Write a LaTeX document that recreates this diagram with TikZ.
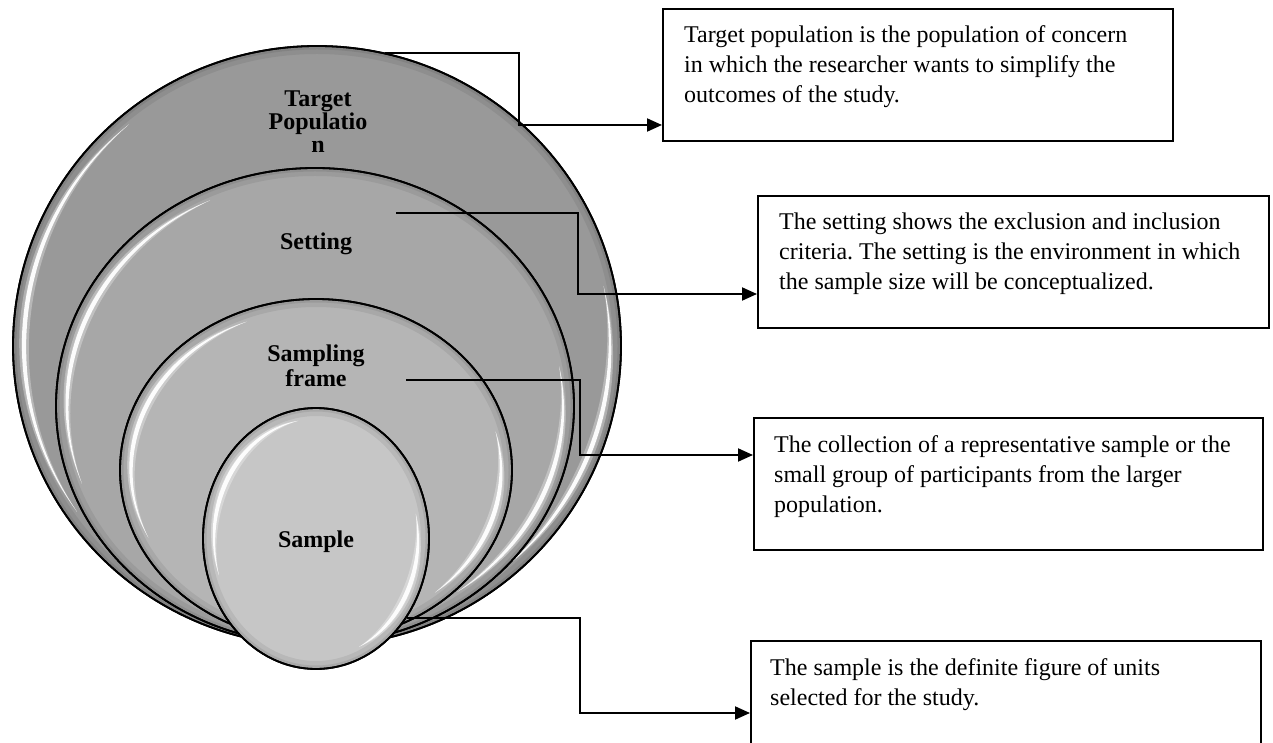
\documentclass[tikz,border=0pt]{standalone}
\usepackage{fontspec}
\setmainfont{Liberation Serif}
\usetikzlibrary{shapes.geometric,arrows.meta,calc}

\definecolor{popfill}{HTML}{999999}
\definecolor{setfill}{HTML}{A7A7A7}
\definecolor{framefill}{HTML}{B5B5B5}
\definecolor{samplefill}{HTML}{C6C6C6}

\tikzset{
  disc/.style={ellipse, draw=black, line width=1.8pt, inner sep=0pt},
  infobox/.style={rectangle, draw=black, line width=2pt, anchor=north west, inner sep=0pt},
  conn/.style={line width=2pt, -{Triangle[length=15pt,width=13pt]}},
  lbl/.style={anchor=base, inner sep=0pt, font=\fontsize{24}{23}\selectfont\bfseries},
  desc/.style={anchor=base west, inner sep=0pt, font=\fontsize{24}{30}\selectfont},
}

% soft dark rim just inside a disc
\newcommand\discrim[3]{%
  \begin{scope}
    \clip (#1.center) ellipse [x radius=#2pt, y radius=#3pt];
    \draw[black, opacity=.07, line width=16pt] (#1.center) ellipse [x radius=#2pt, y radius=#3pt];
    \draw[black, opacity=.08, line width=7pt] (#1.center) ellipse [x radius=#2pt, y radius=#3pt];
  \end{scope}}

% lens-shaped sliver along an elliptic arc: cx cy rx ry from to halfwidth
\newcommand\sliver[7]{%
  plot[domain=#5:#6, samples=48]
    ({#1+(#3+#7*sin((\x-(#5))/((#6)-(#5))*180))*cos(\x)},
     {#2+(#4+#7*sin((\x-(#5))/((#6)-(#5))*180))*sin(\x)})
  -- plot[domain=#6:#5, samples=48]
    ({#1+(#3-#7*sin((\x-(#5))/((#6)-(#5))*180))*cos(\x)},
     {#2+(#4-#7*sin((\x-(#5))/((#6)-(#5))*180))*sin(\x)})
  -- cycle}

% glossy white glint: cx cy rx ry from to
\newcommand\glint[6]{%
  \fill[white, opacity=.3] \sliver{#1}{#2}{#3}{#4}{#5}{#6}{5};
  \fill[white, opacity=.95] \sliver{#1}{#2}{#3}{#4}{#5}{#6}{2.2};}

\begin{document}
\frenchspacing
\begin{tikzpicture}[x=1pt, y=1pt]
\useasboundingbox (0,0) rectangle (1273,742);
\clip (0,0) rectangle (1273,742);

% nested discs
\node[disc, fill=popfill, minimum width=608pt, minimum height=600pt] (tp) at (317,396) {};
\discrim{tp}{304}{300}
\glint{317}{396}{293}{289}{130}{215}
\glint{317}{396}{293}{289}{12}{-50}
\node[disc, fill=none, minimum width=608pt, minimum height=600pt] at (317,396) {};

\node[disc, fill=setfill, minimum width=518pt, minimum height=476pt] (st) at (315,336) {};
\discrim{st}{259}{238}
\glint{315}{336}{248}{227}{115}{200}
\glint{315}{336}{248}{227}{10}{-55}
\node[disc, fill=none, minimum width=518pt, minimum height=476pt] at (315,336) {};

\node[disc, fill=framefill, minimum width=392pt, minimum height=342pt] (sf) at (316,272) {};
\discrim{sf}{196}{171}
\glint{316}{272}{185}{160}{112}{205}
\glint{316}{272}{185}{160}{14}{-50}
\node[disc, fill=none, minimum width=392pt, minimum height=342pt] at (316,272) {};

\node[disc, fill=samplefill, minimum width=226pt, minimum height=261pt] (sm) at (316,203.5) {};
\discrim{sm}{113}{130.5}
\glint{316}{203.5}{102}{119.5}{100}{198}
\glint{316}{203.5}{102}{119.5}{12}{-65}
\node[disc, fill=none, minimum width=226pt, minimum height=261pt] at (316,203.5) {};

% disc labels
\node[lbl] (tpl) at (318,635) {\parbox[t]{200pt}{\centering Target\\Populatio\\n}};
\node[lbl] (stl) at (316,492) {Setting};
\node[lbl, font=\fontsize{24}{24.5}\selectfont\bfseries] (sfl) at (316,380) {\parbox[t]{200pt}{\centering Sampling\\frame}};
\node[lbl] (sml) at (316,195) {Sample};

% description boxes
\node[infobox, minimum width=510pt, minimum height=132pt] (b1) at (662,734) {};
\node[infobox, minimum width=511pt, minimum height=132pt] (b2) at (757,547) {};
\node[infobox, minimum width=509pt, minimum height=132pt] (b3) at (753,325) {};
\node[infobox, minimum width=510pt, minimum height=140pt] (b4) at (750,102) {};

\node[desc] (t1) at (684,699) {\parbox[t]{490pt}{\raggedright
  Target population is the population of concern\\
  in which the researcher wants to simplify the\\
  outcomes of the study.}};
\node[desc] (t2) at (779,512) {\parbox[t]{490pt}{\raggedright
  The setting shows the exclusion and inclusion\\
  criteria. The setting is the environment in which\\
  the sample size will be conceptualized.}};
\node[desc] (t3) at (774,290) {\parbox[t]{490pt}{\raggedright
  The collection of a representative sample or the\\
  small group of participants from the larger\\
  population.}};
\node[desc] (t4) at (770,67) {\parbox[t]{490pt}{\raggedright
  The sample is the definite figure of units\\
  selected for the study.}};

% connectors
\coordinate (s2) at (396,529);
\coordinate (s3) at (406,362);
\coordinate (e1) at ($(b1.south west)+(0,17)$);
\coordinate (e2) at ($(b2.south west)+(0,35)$);
\coordinate (e3) at ($(b3.south west)+(0,96)$);
\coordinate (e4) at ($(b4.north west)+(0,-73)$);

\draw[conn] (tp.77) -| ([xshift=-143pt]e1) -- (e1);
\draw[conn] (s2) -| ([xshift=-179pt]e2) -- (e2);
\draw[conn] (s3) -| ([xshift=-173pt]e3) -- (e3);
\draw[conn] (sm.-41.6) -| ([xshift=-170pt]e4) -- (e4);
\end{tikzpicture}
\end{document}
